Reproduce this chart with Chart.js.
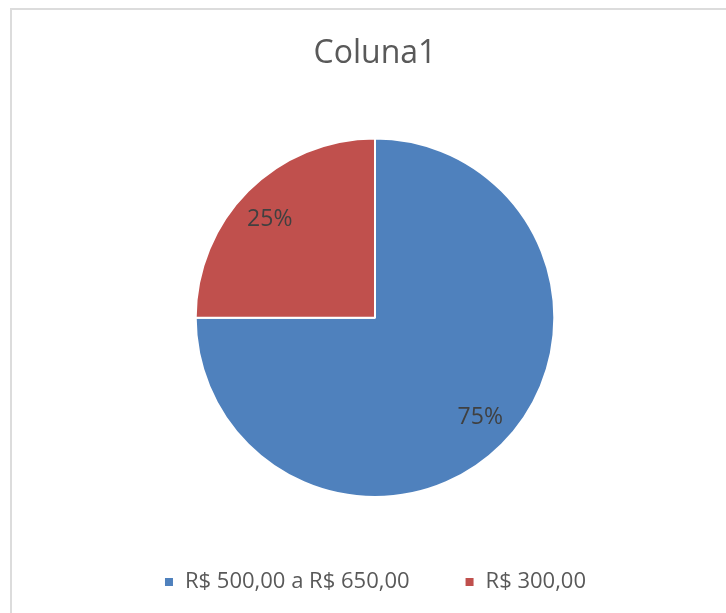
<!DOCTYPE html>
<html>
<head>
<meta charset="utf-8">
<script src="https://cdn.jsdelivr.net/npm/chart.js@4/dist/chart.umd.min.js"></script>
<style>
  html, body { margin: 0; padding: 0; background: #ffffff; overflow: hidden; }
  #frame { position: absolute; left: 10px; top: 8px; width: 800px; height: 800px; border: 2px solid #dcdcdc; box-sizing: border-box; }
  #wrap { position: absolute; left: 0; top: 0; width: 726px; height: 613px; }
</style>
</head>
<body>
<div id="frame"></div>
<div id="wrap"><canvas id="c" width="726" height="613"></canvas></div>
<script>
const chartTitle = 'Coluna1';
const categories = ['R$ 500,00 a R$ 650,00', 'R$ 300,00'];
const values = [75, 25];
const labelsText = ['75%', '25%'];
const colors = ['#4F81BD', '#C0504D'];

const FONT = '"Open Sans", "Noto Sans", sans-serif';

const pieLabels = {
  id: 'pieLabels',
  afterDatasetsDraw(chart) {
    const ctx = chart.ctx;
    const meta = chart.getDatasetMeta(0);
    ctx.save();
    ctx.font = '23px ' + FONT;
    ctx.fillStyle = '#404040';
    ctx.textAlign = 'center';
    ctx.textBaseline = 'middle';
    meta.data.forEach((arc, i) => {
      const p = arc.getProps(['x', 'y', 'startAngle', 'endAngle', 'outerRadius'], true);
      const mid = (p.startAngle + p.endAngle) / 2;
      const r = p.outerRadius;
      ctx.fillText(labelsText[i], p.x + Math.cos(mid) * r * 0.83, p.y + Math.sin(mid) * r * 0.78 + 1);
    });
    ctx.restore();
  }
};

new Chart(document.getElementById('c'), {
  type: 'pie',
  data: {
    labels: categories,
    datasets: [{
      data: values,
      backgroundColor: colors,
      borderColor: '#ffffff',
      borderWidth: 2
    }]
  },
  options: {
    responsive: false,
    animation: false,
    layout: { padding: { left: 24, top: 0, bottom: 10 } },
    plugins: {
      title: {
        display: true,
        text: chartTitle,
        color: '#595959',
        font: { family: FONT, size: 32, weight: 'normal' },
        padding: { top: 35, bottom: 64 }
      },
      legend: {
        position: 'bottom',
        title: { display: true, text: '', font: { size: 12 }, padding: { top: 3.6, bottom: 0 } },
        labels: {
          color: '#595959',
          font: { family: FONT, size: 22 },
          boxWidth: 10,
          boxHeight: 10,
          padding: 55
        }
      },
      tooltip: { enabled: false }
    }
  },
  plugins: [pieLabels]
});
</script>
</body>
</html>
